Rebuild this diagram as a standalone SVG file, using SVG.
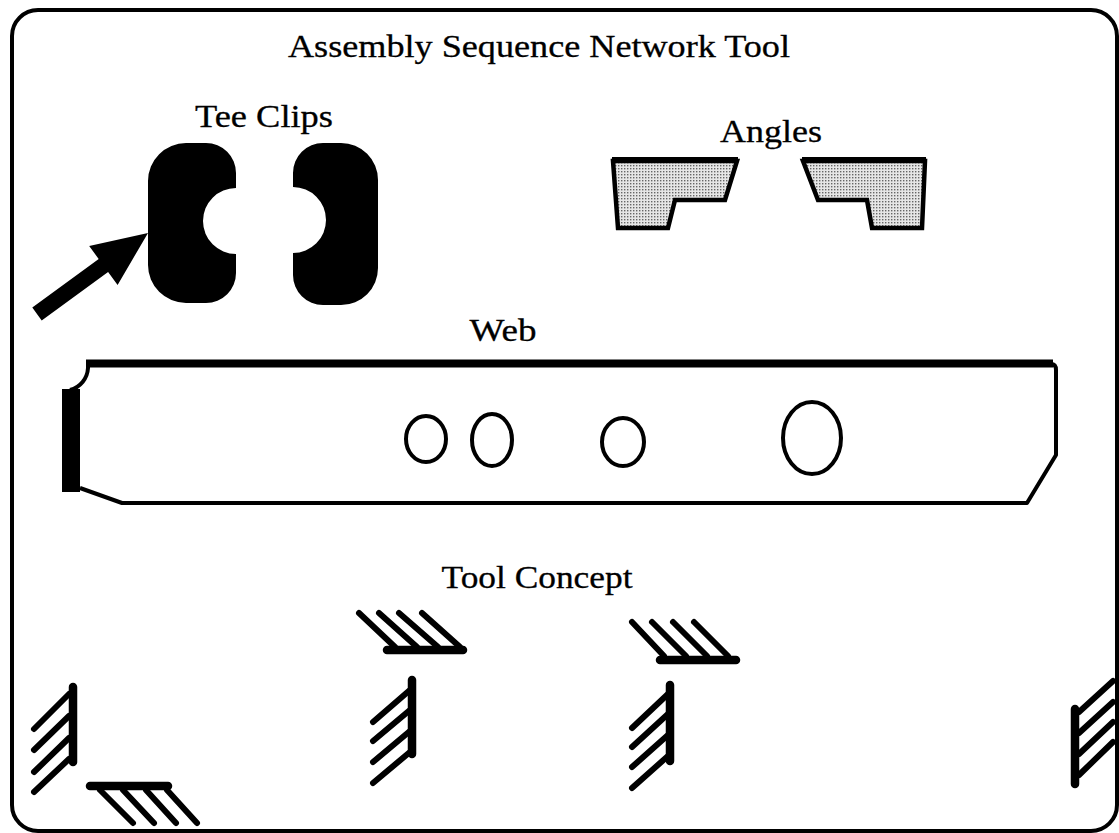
<svg xmlns="http://www.w3.org/2000/svg" width="1119" height="833" viewBox="0 0 1119 833">
  <style>
    .lbl { font-family: "Liberation Serif", "DejaVu Serif", serif; font-size: 31px; fill: #000; stroke: #000; stroke-width: 0.3; text-anchor: middle; }
    .outline { fill: none; stroke: #000; stroke-width: 4; stroke-linejoin: round; }
    .solid { fill: #000; stroke: none; }
    .hatch { stroke: #000; stroke-width: 6; stroke-linecap: round; fill: none; }
    .bar { stroke: #000; stroke-width: 8.5; stroke-linecap: round; fill: none; }
    .hole { fill: none; stroke: #000; stroke-width: 4; }
    .angle { fill: url(#stipple); stroke: #000; stroke-width: 4.5; stroke-linejoin: miter; }
  </style>
  <defs>
    <pattern id="stipple" width="3" height="3" patternUnits="userSpaceOnUse">
      <rect width="3" height="3" fill="#e6e6e6"/>
      <rect x="0" y="0" width="1.4" height="1.4" fill="#666"/>
    </pattern>
  </defs>

  <rect width="1119" height="833" fill="#fff"/>

  <!-- outer frame -->
  <rect id="frame" x="12" y="10" width="1105" height="821" rx="26" ry="26" class="outline"/>

  <!-- title -->
  <g id="title">
    <text class="lbl" x="539" y="57" textLength="502" lengthAdjust="spacingAndGlyphs">Assembly Sequence Network Tool</text>
  </g>

  <!-- tee clips -->
  <g id="tee-clips">
    <text class="lbl" x="264" y="127" textLength="138" lengthAdjust="spacingAndGlyphs">Tee Clips</text>
    <path class="solid" d="M 186,143 H 206 A 30 30 0 0 1 236 173 V 188 A 33 33 0 1 0 236 254 V 273 A 30 30 0 0 1 206 303 H 186 A 38 38 0 0 1 148 265 V 181 A 38 38 0 0 1 186 143 Z"/>
    <path class="solid" d="M 323,143 H 341 A 37 37 0 0 1 378 180 V 268 A 37 37 0 0 1 341 305 H 323 A 30 30 0 0 1 293 275 V 253 A 33 33 0 1 0 293 187 V 173 A 30 30 0 0 1 323 143 Z"/>
  </g>

  <!-- angles -->
  <g id="angles">
    <text class="lbl" x="771" y="142" textLength="102" lengthAdjust="spacingAndGlyphs">Angles</text>
    <polygon class="angle" points="613,161 737,161 725,200 675,200 668,228 618,228"/>
    <line x1="612" y1="160" x2="738" y2="160" stroke="#000" stroke-width="6"/>
    <polygon class="angle" points="803,161 925,161 922,228 872,228 867,200 818,200"/>
    <line x1="802" y1="160" x2="926" y2="160" stroke="#000" stroke-width="6"/>
  </g>

  <!-- web -->
  <g id="web">
    <text class="lbl" x="503" y="341" textLength="67" lengthAdjust="spacingAndGlyphs">Web</text>
    <path class="outline" d="M 88,364 H 1051 Q 1056,364 1056,370 V 455 L 1027,503 H 122 L 80,488 M 88,364 V 368 A 24 24 0 0 1 70 390"/>
    <rect class="solid" x="86" y="359.5" width="967" height="8"/>
    <rect class="solid" x="62" y="389" width="18" height="103"/>
    <ellipse class="hole" cx="426" cy="439" rx="20" ry="23"/>
    <ellipse class="hole" cx="492" cy="440" rx="20" ry="26"/>
    <ellipse class="hole" cx="623" cy="442" rx="21" ry="24"/>
    <ellipse class="hole" cx="812" cy="438" rx="29" ry="36"/>
  </g>

  <!-- tool concept supports -->
  <g id="tool-concept">
    <text class="lbl" x="537" y="588" textLength="191" lengthAdjust="spacingAndGlyphs">Tool Concept</text>
  </g>

  <g id="support-left">
    <line class="bar" x1="73" y1="687" x2="73" y2="762"/>
    <line class="hatch" x1="69" y1="694" x2="34" y2="729"/>
    <line class="hatch" x1="69" y1="716" x2="34" y2="750"/>
    <line class="hatch" x1="69" y1="738" x2="34" y2="772"/>
    <line class="hatch" x1="69" y1="759" x2="34" y2="792"/>
    <line class="bar" x1="90" y1="786" x2="168" y2="786"/>
    <line class="hatch" x1="100" y1="790" x2="133" y2="823"/>
    <line class="hatch" x1="123" y1="790" x2="154" y2="823"/>
    <line class="hatch" x1="146" y1="790" x2="176" y2="823"/>
    <line class="hatch" x1="167" y1="790" x2="197" y2="823"/>
  </g>

  <g id="support-mid-a">
    <line class="bar" x1="387" y1="650" x2="463" y2="650"/>
    <line class="hatch" x1="395" y1="647" x2="359" y2="613"/>
    <line class="hatch" x1="417" y1="647" x2="379" y2="613"/>
    <line class="hatch" x1="438" y1="647" x2="399" y2="613"/>
    <line class="hatch" x1="460" y1="647" x2="422" y2="613"/>
    <line class="bar" x1="412" y1="680" x2="412" y2="754"/>
    <line class="hatch" x1="410" y1="690" x2="373" y2="722"/>
    <line class="hatch" x1="410" y1="710" x2="373" y2="741"/>
    <line class="hatch" x1="410" y1="731" x2="373" y2="762"/>
    <line class="hatch" x1="410" y1="752" x2="373" y2="783"/>
  </g>

  <g id="support-mid-b">
    <line class="bar" x1="660" y1="660" x2="736" y2="660"/>
    <line class="hatch" x1="664" y1="656" x2="632" y2="622"/>
    <line class="hatch" x1="686" y1="656" x2="652" y2="622"/>
    <line class="hatch" x1="707" y1="656" x2="673" y2="622"/>
    <line class="hatch" x1="728" y1="656" x2="694" y2="622"/>
    <line class="bar" x1="670" y1="685" x2="670" y2="761"/>
    <line class="hatch" x1="668" y1="694" x2="632" y2="728"/>
    <line class="hatch" x1="668" y1="714" x2="632" y2="747"/>
    <line class="hatch" x1="668" y1="735" x2="632" y2="767"/>
    <line class="hatch" x1="668" y1="756" x2="632" y2="788"/>
  </g>

  <g id="support-right">
    <line class="bar" x1="1075" y1="709" x2="1075" y2="784"/>
    <line class="hatch" x1="1079" y1="712" x2="1113" y2="681"/>
    <line class="hatch" x1="1079" y1="733" x2="1113" y2="702"/>
    <line class="hatch" x1="1079" y1="754" x2="1113" y2="722"/>
    <line class="hatch" x1="1079" y1="775" x2="1113" y2="742"/>
  </g>

  <!-- connectors -->
  <g id="connectors">
    <polygon class="solid" points="148,233 117.6,284.9 108.1,272 41.7,320.5 32.3,307.5 98.7,259 89.2,246.1"/>
  </g>
</svg>
